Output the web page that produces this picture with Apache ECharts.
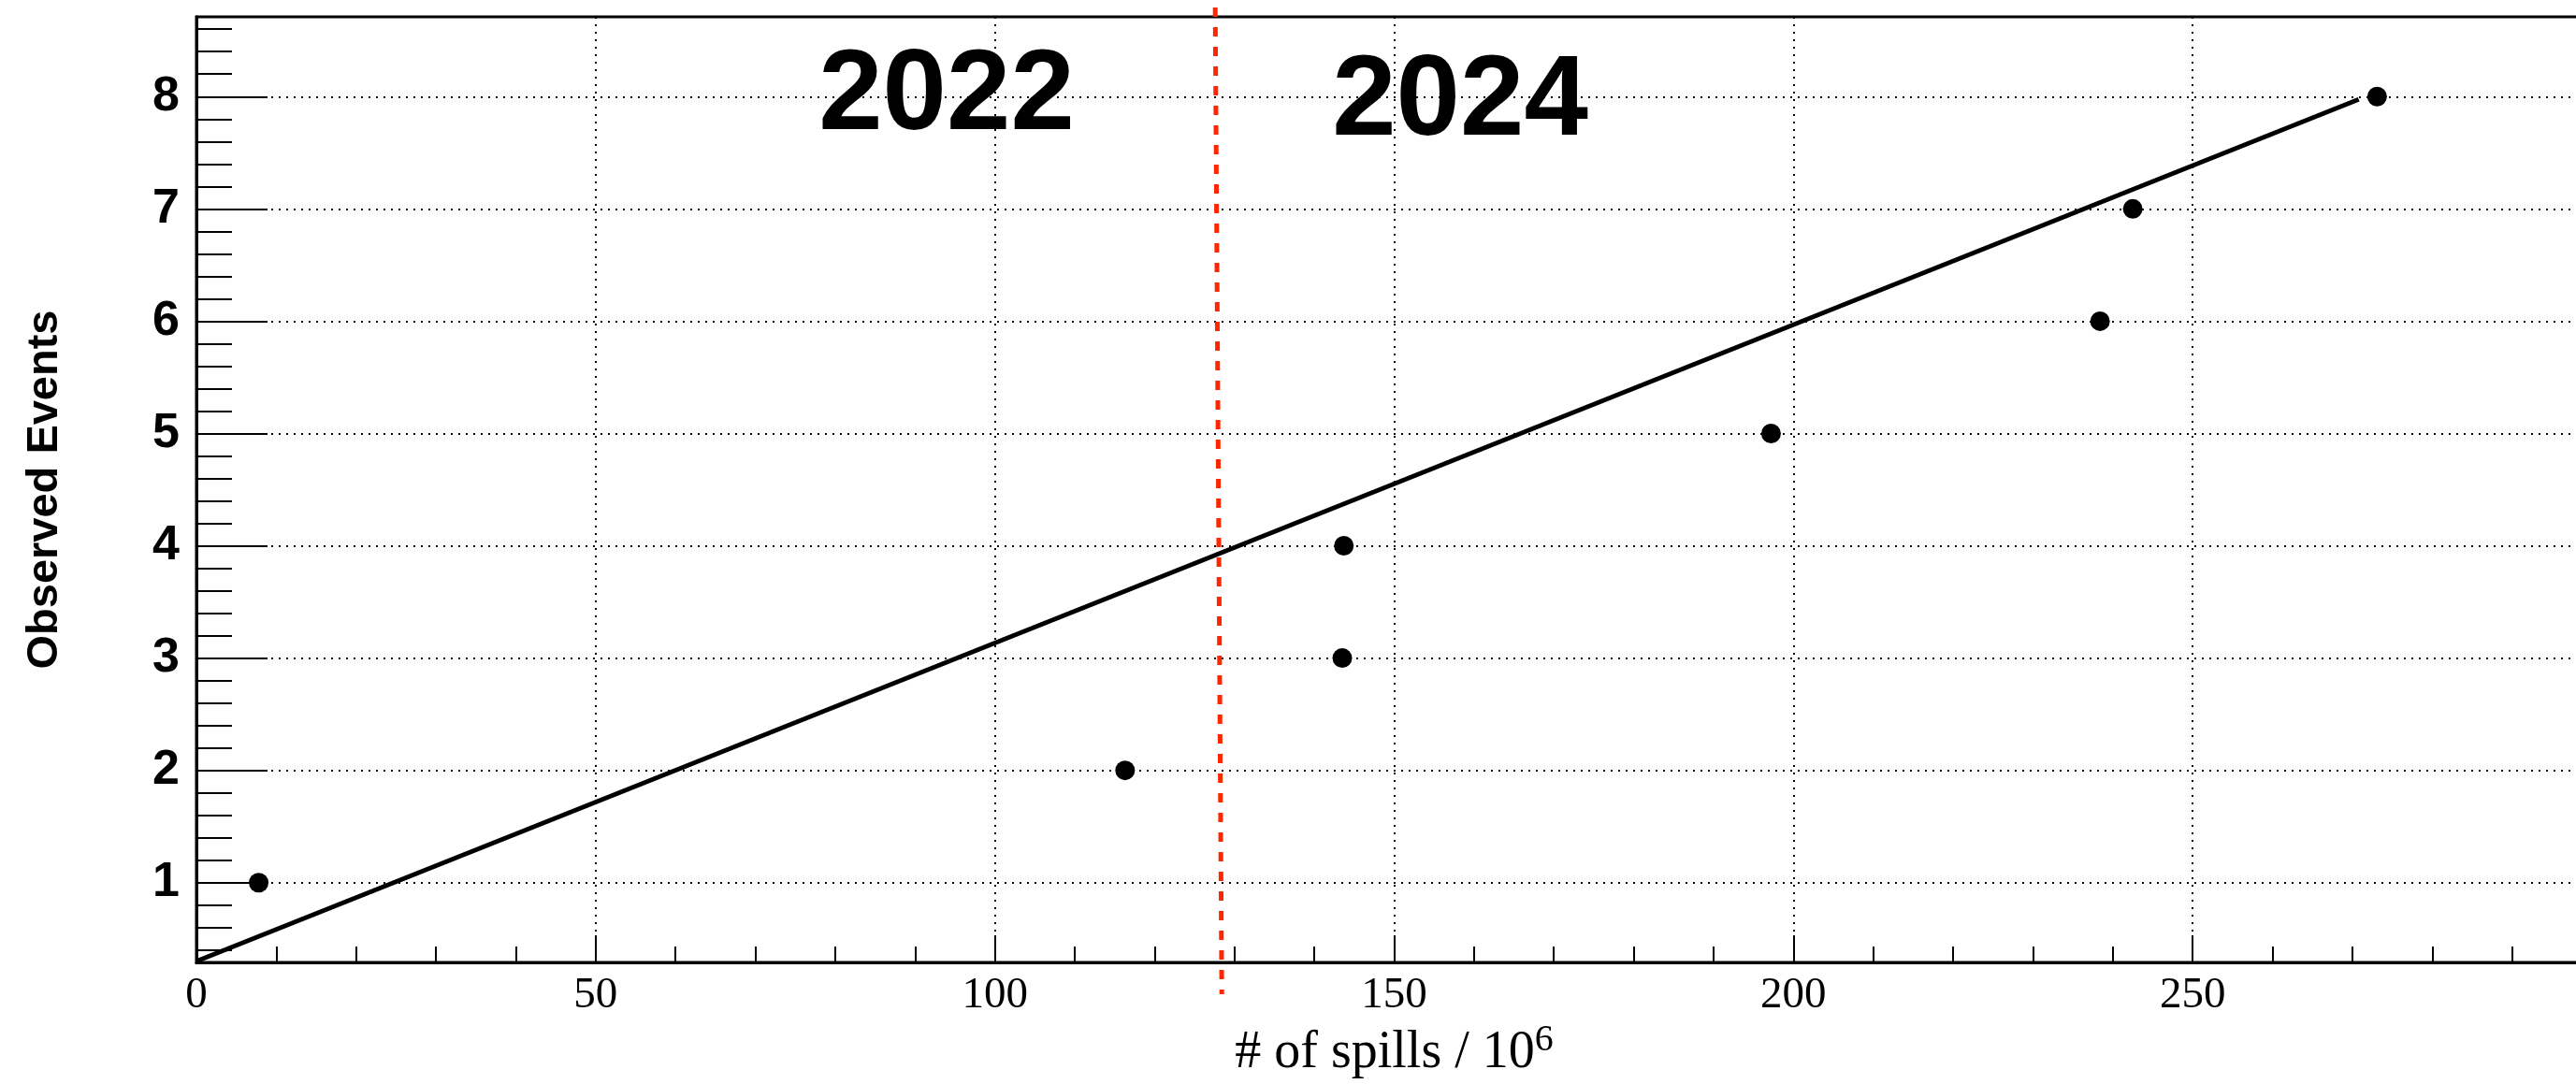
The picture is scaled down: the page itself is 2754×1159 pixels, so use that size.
<!DOCTYPE html>
<html><head><meta charset="utf-8">
<script src="https://cdn.jsdelivr.net/npm/echarts@6/dist/echarts.min.js"></script>
<style>html,body{margin:0;padding:0;background:#fff}#c{width:2754px;height:1159px}</style>
</head><body><div id="c"></div>
<script>
// ---- data ----
const spills = [7.8, 116.3, 143.5, 143.7, 197.2, 238.4, 242.5, 273.1];   // # of spills / 10^6
const events = [1, 2, 3, 4, 5, 6, 7, 8];                                 // observed events
const fitX = [0, 270.8];                                                 // straight-line fit end points
const fitY = [0.30, 7.975];
const yearLabels = ['2022', '2024'];
const boundarySpills = 128;                                              // 2022 / 2024 boundary
const xTickLabels = ['0', '50', '100', '150', '200', '250'];

const chart = echarts.init(document.getElementById('c'), null, {renderer: 'canvas'});
const dotted = {color: '#000', width: 2, type: [2, 6]};
const option = {
  animation: false,
  backgroundColor: '#fff',
  grid: {left: 210, top: 18, right: -17, bottom: 130, outerBoundsMode: 'none', containLabel: false,
    show: true, borderColor: '#000', borderWidth: 3, backgroundColor: 'transparent'},
  xAxis: {
    type: 'value', min: 0, max: 300, interval: 50,
    axisLine: {show: true, onZero: false, lineStyle: {color: '#000', width: 3}},
    axisTick: {show: true, inside: true, length: 29, lineStyle: {color: '#000', width: 2}},
    minorTick: {show: true, splitNumber: 5, length: 17, lineStyle: {color: '#000', width: 2}},
    axisLabel: {color: '#000', fontFamily: 'Liberation Serif', fontSize: 47, margin: 12,
      formatter: v => xTickLabels[Math.round(v / 50)] || ''},
    splitLine: {show: true, lineStyle: dotted},
    name: '{a|# of spills / 10}{s|6}', nameLocation: 'middle', nameGap: 57,
    nameTextStyle: {rich: {
      a: {fontFamily: 'Liberation Serif', fontSize: 56, color: '#000', lineHeight: 66},
      s: {fontFamily: 'Liberation Serif', fontSize: 40, color: '#000', verticalAlign: 'top', lineHeight: 42}
    }}
  },
  yAxis: {
    type: 'value', min: 0.29, max: 8.71, splitNumber: 8,
    axisLine: {show: true, onZero: false, lineStyle: {color: '#000', width: 3}},
    axisTick: {show: true, inside: true, length: 76, lineStyle: {color: '#000', width: 2}},
    minorTick: {show: true, splitNumber: 5, length: 38, lineStyle: {color: '#000', width: 2}},
    axisLabel: {color: '#000', fontFamily: 'Liberation Sans', fontWeight: 'bold', fontSize: 52, margin: 18,
      showMinLabel: false, showMaxLabel: false,
      formatter: v => (Math.abs(v - Math.round(v)) < 1e-6 ? String(Math.round(v)) : '')},
    splitLine: {show: true, lineStyle: dotted},
    name: 'Observed Events', nameLocation: 'middle', nameRotate: 90, nameGap: 138,
    nameTextStyle: {fontFamily: 'Liberation Sans', fontWeight: 'bold', fontSize: 47, color: '#000'}
  },
  series: [
    {type: 'line', data: fitX.map((x, i) => [x, fitY[i]]), showSymbol: false, symbol: 'none',
     lineStyle: {color: '#000', width: 5}, z: 3},
    {type: 'scatter', data: spills.map((x, i) => [x, events[i]]), symbol: 'circle', symbolSize: 21,
     itemStyle: {color: '#000', opacity: 1}, z: 4}
  ]
};
chart.setOption(option);

const bx = chart.convertToPixel({gridIndex: 0}, [boundarySpills, 1])[0];
chart.setOption({
  graphic: [
    {type: 'text', z: 10, style: {text: yearLabels[0], x: 1012, y: 104, textAlign: 'center', textVerticalAlign: 'middle',
      font: 'bold 123px "Liberation Sans"', fill: '#000'}},
    {type: 'text', z: 10, style: {text: yearLabels[1], x: 1561, y: 110, textAlign: 'center', textVerticalAlign: 'middle',
      font: 'bold 123px "Liberation Sans"', fill: '#000'}},
    {type: 'line', z: 20, shape: {x1: bx - 3.5, y1: 8, x2: bx + 3.5, y2: 1063},
      style: {stroke: '#ff2600', lineWidth: 5, lineDash: [10, 11]}}
  ]
});
</script></body></html>
